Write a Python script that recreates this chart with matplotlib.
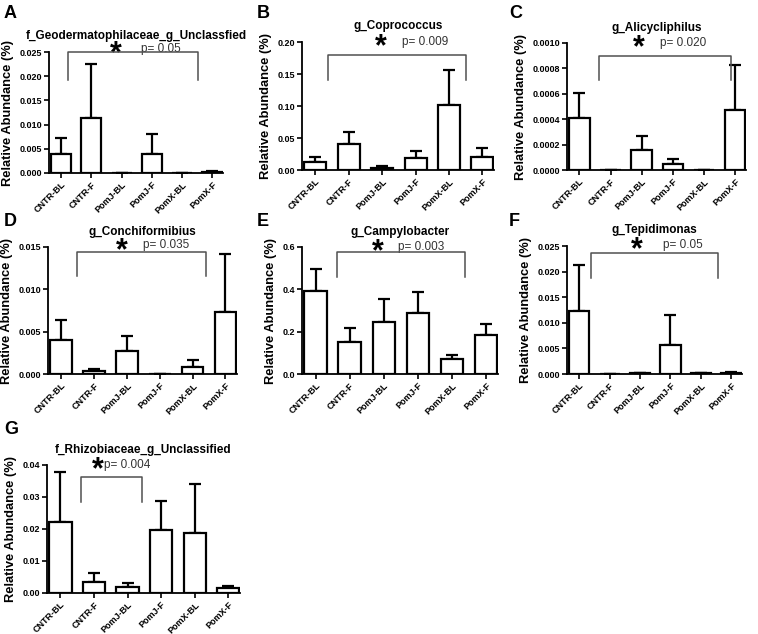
import matplotlib
matplotlib.use("Agg")
import matplotlib.pyplot as plt
import numpy as np

plt.rcParams['font.family'] = ['Liberation Sans', 'DejaVu Sans']

groups = ["CNTR-BL", "CNTR-F", "PomJ-BL", "PomJ-F", "PomX-BL", "PomX-F"]

titles = ["f_Geodermatophilaceae_g_Unclassfied", "g_Coprococcus", "g_Alicycliphilus",
          "g_Conchiformibius", "g_Campylobacter", "g_Tepidimonas",
          "f_Rhizobiaceae_g_Unclassified"]
letters = ["A", "B", "C", "D", "E", "F", "G"]
pvals = ["p= 0.05", "p= 0.009", "p= 0.020", "p= 0.035", "p= 0.003", "p= 0.05", "p= 0.004"]

means_A = [0.0040, 0.0113, 0.0, 0.0040, 0.0, 0.0003]
err_A = [0.0033, 0.0113, 0.0, 0.0040, 0.0, 0.0002]
means_B = [0.012, 0.041, 0.003, 0.018, 0.102, 0.020]
err_B = [0.009, 0.019, 0.003, 0.011, 0.055, 0.015]
means_C = [0.00041, 0.0, 0.000155, 0.00005, 0.0, 0.000475]
err_C = [0.00020, 0.0, 0.000115, 0.00004, 0.0, 0.000355]
means_D = [0.0040, 0.0003, 0.0027, 0.0, 0.0008, 0.0073]
err_D = [0.0024, 0.0003, 0.0018, 0.0, 0.0008, 0.0069]
means_E = [0.390, 0.152, 0.245, 0.288, 0.070, 0.182]
err_E = [0.105, 0.065, 0.107, 0.098, 0.020, 0.053]
means_F = [0.0124, 0.0, 0.0001, 0.0057, 0.0001, 0.0002]
err_F = [0.0088, 0.0, 0.0001, 0.0058, 0.0, 0.0001]
means_G = [0.0222, 0.0033, 0.0020, 0.0198, 0.0188, 0.0017]
err_G = [0.0156, 0.0029, 0.0012, 0.0089, 0.0152, 0.0006]

ylims = [0.025, 0.20, 0.0010, 0.015, 0.6, 0.025, 0.04]
ysteps = [0.005, 0.05, 0.0002, 0.005, 0.2, 0.005, 0.01]
yfmt = ["{:.3f}", "{:.2f}", "{:.4f}", "{:.3f}", "{:.1f}", "{:.3f}", "{:.2f}"]

# bracket: (x_left, x_right, y_top, y_drop, star_x, star_y, p_x)
brackets = [
    (0.23, 4.52, 0.0250, 0.0192, 1.80, 0.0256, 2.65),
    (0.38, 4.50, 0.180, 0.140, 1.95, 0.200, 2.60),
    (0.62, 4.88, 0.00090, 0.00071, 1.92, 0.00100, 2.60),
    (0.48, 4.41, 0.0144, 0.0116, 1.84, 0.0152, 2.50),
    (0.63, 4.37, 0.576, 0.458, 1.82, 0.600, 2.42),
    (0.40, 4.55, 0.0236, 0.0188, 1.90, 0.0252, 2.75),
    (0.61, 2.44, 0.0362, 0.0284, 1.10, 0.0400, 1.30),
]

means = [means_A, means_B, means_C, means_D, means_E, means_F, means_G]
errs = [err_A, err_B, err_C, err_D, err_E, err_F, err_G]

W, H = 758, 634
fig = plt.figure(figsize=(W / 100, H / 100), dpi=100)

# axes pixel boxes (x0, x1, ytop, ybottom)
boxes = [
    (49, 223, 52, 173),
    (302, 494, 42, 170),
    (567, 746, 43, 170),
    (48, 237, 247, 374),
    (302, 498, 247, 374),
    (567, 742, 246, 374),
    (47, 240, 465, 593),
]
letter_pos = [(4, 14), (257, 14), (509, 14), (4, 221), (257, 221), (509, 221), (4, 430)]

STAR_FS = 22
x = np.arange(len(groups))
for i in range(7):
    x0, x1, yt, yb = boxes[i]
    ax = fig.add_axes([x0 / W, (H - yb) / H, (x1 - x0) / W, (yb - yt) / H])
    ax.bar(x, means[i], width=0.66, color='white', edgecolor='black', linewidth=1.6, zorder=3)
    ax.errorbar(x, means[i], yerr=[np.zeros(6), errs[i]], fmt='none', ecolor='black',
                elinewidth=1.6, capsize=4.5, capthick=1.6, zorder=2)
    ax.set_xlim(-0.4, 5.35)
    ax.set_ylim(0, ylims[i])
    ticks = np.arange(0, ylims[i] + ysteps[i] / 2, ysteps[i])
    ax.set_yticks(ticks)
    ax.set_yticklabels([yfmt[i].format(t) for t in ticks], fontsize=6.5, fontweight='bold')
    ax.set_xticks(x)
    ax.set_xticklabels(groups, rotation=45, ha='right', rotation_mode='anchor',
                       fontsize=6.5, fontweight='bold')
    for s in ['top', 'right']:
        ax.spines[s].set_visible(False)
    for s in ['left', 'bottom']:
        ax.spines[s].set_linewidth(1.3)
    ax.tick_params(axis='both', direction='out', width=1.2, length=3.5, pad=1.5)
    ax.set_ylabel("Relative Abundance (%)", fontsize=9.3, fontweight='bold', labelpad=4)
    ax.set_title(titles[i], fontsize=8.5, fontweight='bold', pad=9)
    xl, xr, ytop, ydrop, sx, sy, px = brackets[i]
    ax.plot([xl, xl, xr, xr], [ydrop, ytop, ytop, ydrop], color='#505050', lw=1.1,
            clip_on=False, zorder=4)
    ax.annotate("*", xy=(sx, sy), xytext=(0, -0.44 * STAR_FS), textcoords='offset points',
                fontsize=STAR_FS, fontweight='bold', ha='center', va='baseline',
                annotation_clip=False)
    ax.text(px, sy, pvals[i], fontsize=8.5, ha='left', va='center', color='#333333',
            clip_on=False)
    lx, ly = letter_pos[i]
    fig.text(lx / W, 1 - ly / H, letters[i], fontsize=13, fontweight='bold',
             ha='left', va='center')

fig.savefig("out.png", dpi=100)
